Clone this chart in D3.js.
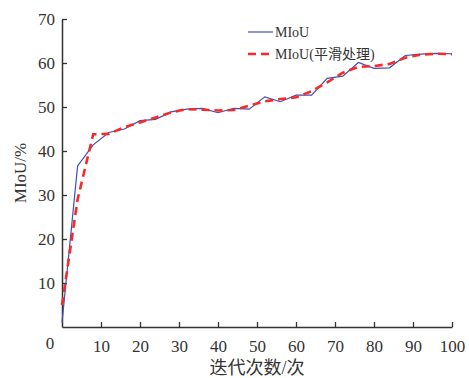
<!DOCTYPE html>
<html>
<head>
<meta charset="utf-8">
<script src="https://cdn.jsdelivr.net/npm/d3@7"></script>
<style>
  body { margin: 0; background: #fff; }
  svg text { font-family: "Liberation Serif", "Noto Sans CJK SC", serif; fill: #333; }
</style>
</head>
<body>
<div id="chart"></div>
<script>
const iterations = [0, 4, 8, 12, 16, 20, 24, 28, 32, 36, 40, 44, 48, 52, 56, 60, 64, 68, 72, 76, 80, 84, 88, 92, 96, 100];
const miou = [1, 36.6, 41.4, 44.2, 45.0, 46.9, 47.2, 48.9, 49.5, 49.7, 48.7, 49.7, 49.5, 52.3, 51.2, 52.7, 52.7, 56.5, 57.0, 60.1, 58.8, 58.9, 61.7, 62.0, 62.2, 62.1];
const miouSmooth = [5, 29, 43.8, 43.9, 45.4, 46.5, 47.6, 48.8, 49.5, 49.4, 49.2, 49.3, 50.3, 51.3, 51.8, 52.2, 53.6, 55.6, 57.8, 59.1, 59.3, 59.8, 61.2, 61.9, 62.1, 62.0];
const xTicks = [10, 20, 30, 40, 50, 60, 70, 80, 90, 100];
const yTicks = [10, 20, 30, 40, 50, 60, 70];
const seriesNames = ["MIoU", "MIoU(平滑处理)"];

const width = 469, height = 378;
const margin = { top: 19, right: 17, bottom: 51, left: 62 };

const svg = d3.select("#chart").append("svg")
  .attr("width", width)
  .attr("height", height);

const x = d3.scaleLinear().domain([0, 100]).range([margin.left, width - margin.right]);
const y = d3.scaleLinear().domain([0, 70]).range([height - margin.bottom, margin.top]);

// axes, ticks pointing inward
const xAxis = svg.append("g")
  .attr("transform", `translate(0,${y(0)})`)
  .call(d3.axisBottom(x).tickValues(xTicks).tickSizeInner(-5).tickSizeOuter(0).tickPadding(10));
const yAxis = svg.append("g")
  .attr("transform", `translate(${x(0)},0)`)
  .call(d3.axisLeft(y).tickValues(yTicks).tickSizeInner(-5).tickSizeOuter(0).tickPadding(7));

[xAxis, yAxis].forEach(g => {
  g.select(".domain").attr("stroke", "#333").attr("stroke-width", 1.5);
  g.selectAll(".tick line").attr("stroke", "#333").attr("stroke-width", 1.3);
  g.selectAll(".tick text").attr("font-size", 17).attr("fill", "#333")
    .style("font-family", '"Liberation Serif", serif');
});
xAxis.selectAll(".tick text").attr("dy", "0.9em");

// origin label
svg.append("text")
  .attr("x", x(0) - 12).attr("y", y(0) + 22)
  .attr("text-anchor", "middle")
  .attr("font-size", 17)
  .text("0");

const line = d3.line().x((d, i) => x(iterations[i])).y(d => y(d));

svg.append("path")
  .datum(miou)
  .attr("fill", "none")
  .attr("stroke", "#3f4fb3")
  .attr("stroke-width", 1.2)
  .attr("d", line);

svg.append("path")
  .datum(miouSmooth)
  .attr("fill", "none")
  .attr("stroke", "#f52a2a")
  .attr("stroke-width", 2.6)
  .attr("stroke-dasharray", "8,5")
  .attr("d", line);

// legend
const legend = svg.append("g").attr("transform", "translate(248,32)");
legend.append("line").attr("x1", 0).attr("x2", 25).attr("y1", 0).attr("y2", 0)
  .attr("stroke", "#3f4fb3").attr("stroke-width", 1.2);
legend.append("line").attr("x1", 0).attr("x2", 25).attr("y1", 22).attr("y2", 22)
  .attr("stroke", "#f52a2a").attr("stroke-width", 2.6).attr("stroke-dasharray", "8,5");
legend.selectAll("text.lg").data(seriesNames).enter().append("text")
  .attr("class", "lg")
  .attr("x", 27).attr("y", (d, i) => i * 22 + 5)
  .attr("font-size", 14)
  .text(d => d);

// axis titles
svg.append("text")
  .attr("x", (x(0) + x(100)) / 2).attr("y", 374)
  .attr("text-anchor", "middle")
  .attr("font-size", 18)
  .text("迭代次数/次");

svg.append("text")
  .attr("transform", `translate(26,${(y(0) + y(70)) / 2}) rotate(-90)`)
  .attr("text-anchor", "middle")
  .attr("font-size", 17)
  .text("MIoU/%");
</script>
</body>
</html>
